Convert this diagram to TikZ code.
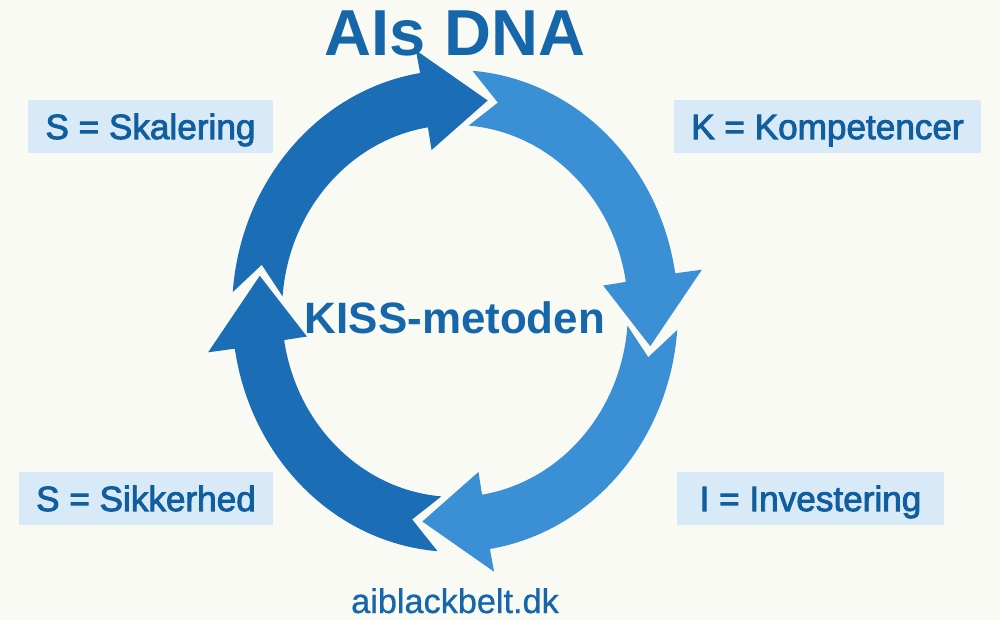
\documentclass[tikz,border=0pt]{standalone}
\usepackage{fontspec}
\setmainfont{Liberation Sans}
\newfontfamily\labelfont[FakeBold=2.5]{Liberation Sans}
\newfontfamily\urlfont[FakeBold=0.8]{Liberation Sans}
\usepackage{tikz}
\definecolor{bgcolor}{RGB}{250,250,245}
\definecolor{titleblue}{RGB}{22,102,170}
\definecolor{lblblue}{RGB}{16,94,158}
\definecolor{boxblue}{RGB}{216,233,247}
\definecolor{ringdark}{RGB}{27,110,181}
\definecolor{ringlight}{RGB}{59,144,213}

\begin{document}
\begin{tikzpicture}[
    x=0.02cm, y=0.02cm,
    % Label boxes round the ring
    lblbox/.style={rectangle, fill=boxblue, text=lblblue, font=\labelfont\fontsize{20}{24}\selectfont,
        minimum height=1.06cm, inner sep=0pt, text height=14.3pt, text depth=0pt},
    % Big blue headings
    heading/.style={text=titleblue, font=\bfseries\fontsize{#1}{#1}\selectfont, inner sep=0pt, anchor=base}
]

    % --- BACKGROUND ---
    \path[use as bounding box, fill=bgcolor] (0,0) rectangle (1000,620);

    % --- RING OF ARROWS (clockwise) ---
    \begin{scope}[shift={(455,309)}]
    \foreach \t/\h/\col in {180/90/ringdark, 90/0/ringlight, 0/-90/ringlight, -90/-180/ringdark} {
        \fill[\col] (\t-4.5:4.46cm and 4.82cm)
            arc[start angle=\t-4.5, end angle=\h+9, x radius=4.46cm, y radius=4.82cm]
            -- (\h+9:5cm and 5.28cm)
            -- (\h-9.5:3.96cm and 4.27cm)
            -- (\h+9:3cm and 3.26cm)
            -- (\h+9:3.46cm and 3.72cm)
            arc[start angle=\h+9, end angle=\t-4.5, x radius=3.46cm, y radius=3.72cm]
            -- (\t-12.5:3.96cm and 4.27cm)
            -- cycle;
    }
    \end{scope}

    % --- TITLE AND CENTRE ---
    \node[heading=37] (title) at (455,564) {AIs DNA};
    \node[heading=25] (kiss) at (455,287) {KISS-metoden};
    \node[text=titleblue, font=\urlfont\fontsize{19.5}{22}\selectfont, inner sep=0pt, anchor=base] (url) at (455,7) {aiblackbelt.dk};

    % --- LABELS ---
    \node[lblbox, minimum width=4.9cm] (skal) at (150.5,493.5) {S = Skalering};
    \node[lblbox, minimum width=6.14cm] (komp) at (827.5,493.5) {K = Kompetencer};
    \node[lblbox, minimum width=5.08cm] (sikk) at (146,121.5) {S = Sikkerhed};
    \node[lblbox, minimum width=5.34cm] (inv) at (810.5,121.5) {I = Investering};

\end{tikzpicture}
\end{document}
